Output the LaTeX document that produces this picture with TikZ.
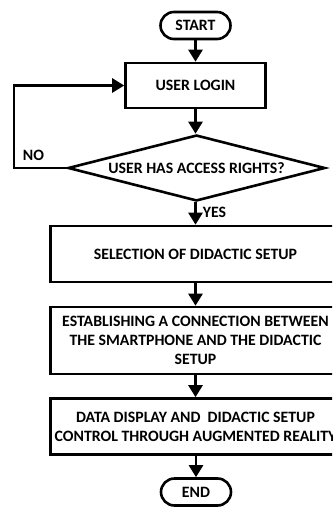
\documentclass[tikz,border=0pt]{standalone}
\usepackage{fontspec}
\setmainfont{Carlito}
\usetikzlibrary{arrows.meta,shapes.geometric}
\begin{document}
\begin{tikzpicture}[x=1pt,y=-1pt,
  every node/.style={font=\bfseries\fontsize{15.8}{18.8}\selectfont},
  lw/.style={line width=2.6pt},
  term/.style={lw,draw,rectangle,rounded corners=13.5pt,minimum width=70pt,minimum height=27pt,inner sep=0pt},
  box/.style={lw,draw,rectangle,align=center,inner sep=0pt},
  widebox/.style={box,minimum width=290pt},
  dec/.style={lw,draw,diamond,shape aspect=3.9,minimum width=257pt,minimum height=66pt,inner sep=0pt},
  arr/.style={lw,-{Triangle[width=14pt,length=12pt]}},
  lbl/.style={inner sep=0pt}]
\useasboundingbox (0,0) rectangle (332,508);
\clip (0,0) rectangle (332,508);
\node[term] (start) at (195.5,25.5) {START};
\node[box,minimum width=140pt,minimum height=45pt] (login) at (195.5,85.5) {USER LOGIN};
\node[dec] (acc) at (196.5,168) {USER HAS ACCESS RIGHTS?};
\node[widebox,minimum height=56pt] (sel) at (195.5,254) {SELECTION OF DIDACTIC SETUP};
\node[widebox,minimum height=67pt] (est) at (195.5,340.5) {ESTABLISHING A CONNECTION BETWEEN\\THE SMARTPHONE AND THE DIDACTIC\\SETUP};
\node[widebox,minimum height=56pt] (disp) at (195.5,426.5) {DATA DISPLAY AND \ DIDACTIC SETUP\\CONTROL THROUGH AUGMENTED REALITY};
\node[term] (end) at (196,492) {END};
\coordinate (nocorner) at (14,168);
\draw[arr] (start) -- (login);
\draw[arr] (login) -- (login.south |- acc.north);
\draw[arr] (acc.south -| sel.north) -- node[lbl,right=6pt,pos=0.45] {YES} (sel.north);
\draw[arr] (acc.west) -- node[lbl,pos=0.63,above=6pt] {NO} (nocorner) |- (login.west);
\draw[arr] (sel) -- (est);
\draw[arr] (est) -- (disp);
\draw[arr] (disp) -- (disp.south -| end.north) -- (end.north);
\end{tikzpicture}
\end{document}
